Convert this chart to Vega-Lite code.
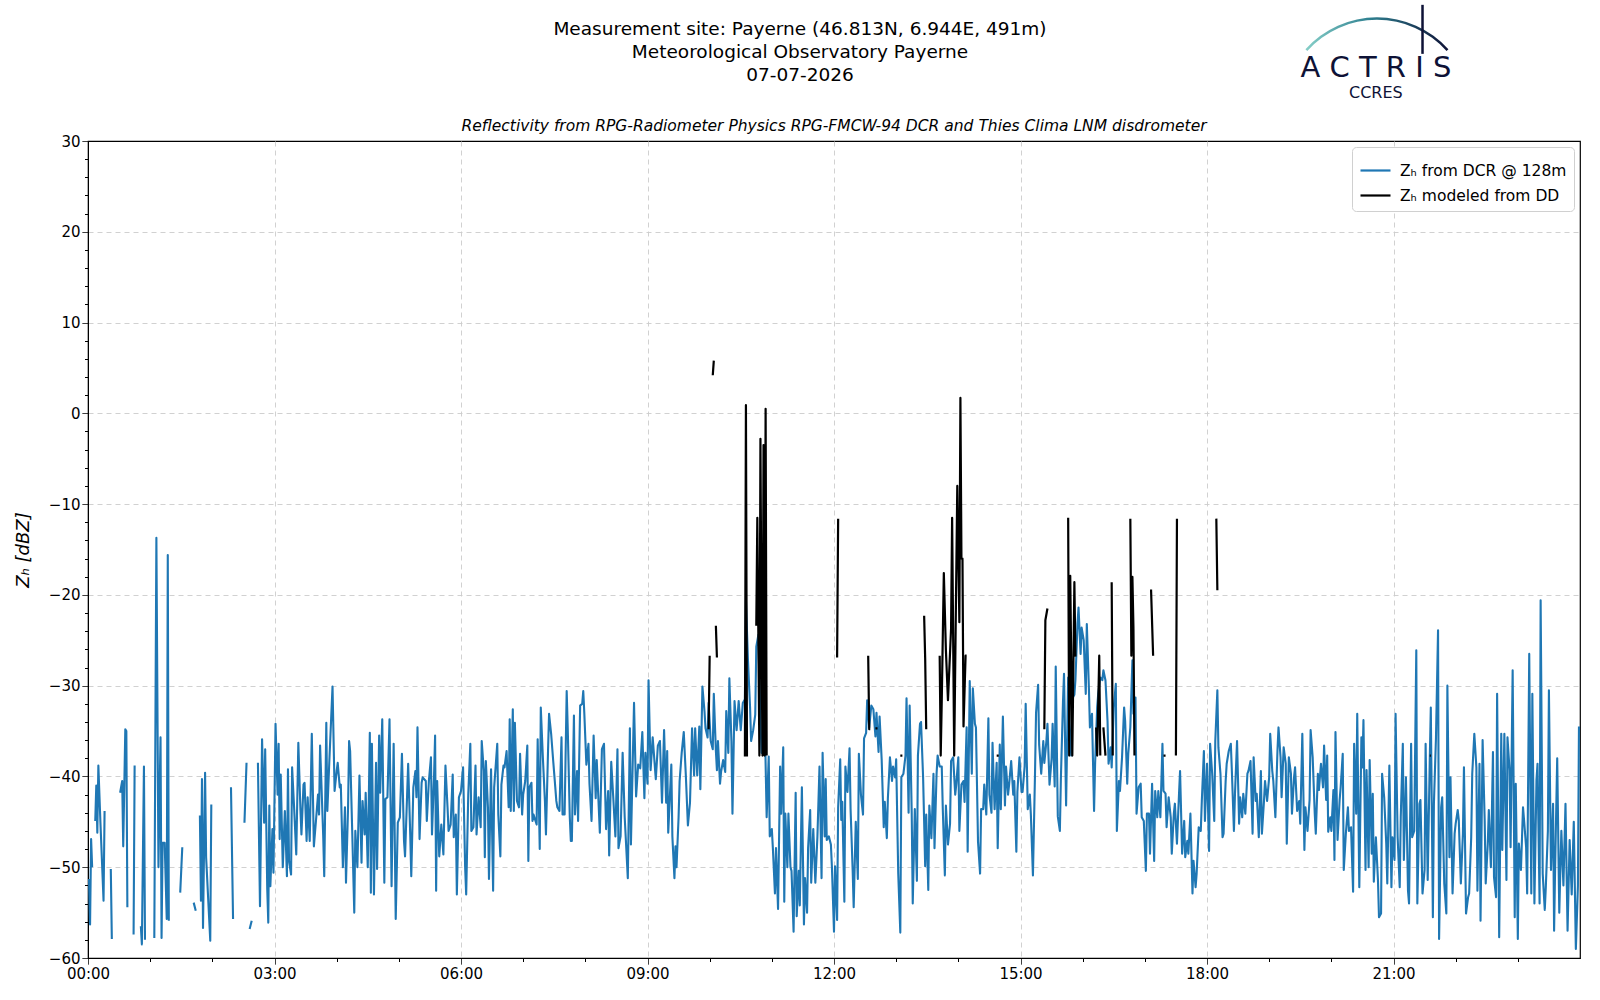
{
  "$schema": "https://vega.github.io/schema/vega-lite/v6.json",
  "autosize": {"type": "none"},
  "width": 1492,
  "height": 817,
  "padding": {"left": 88, "top": 141, "right": 20, "bottom": 42},
  "title": {
    "text": ["Measurement site: Payerne (46.813N, 6.944E, 491m)", "Meteorological Observatory Payerne", "07-07-2026"],
    "anchor": "middle",
    "fontSize": 18.5,
    "fontWeight": "normal",
    "lineHeight": 23,
    "color": "black",
    "offset": 0,
    "dx": -34,
    "dy": 81
  },
  "config": {
    "font": "DejaVu Sans",
    "view": {"stroke": "black", "strokeWidth": 1.2},
    "axis": {
      "labelColor": "black",
      "titleColor": "black",
      "tickColor": "black",
      "domainColor": "black",
      "labelFontSize": 15,
      "gridColor": "#cccccc",
      "gridDash": [5, 4],
      "gridWidth": 0.9
    }
  },
  "layer": [
    {
      "data": {
        "format": {"parse": {"t": "date:'%H:%M'"}},
        "values": [
          {"t":"00:01","z":-51.3},{"t":"00:02","z":-56.3},{"t":"00:03","z":-46.9},{"t":"00:04","z":-50.0},{"t":"00:05","z":null},
          {"t":"00:07","z":-44.9},{"t":"00:08","z":-41.0},{"t":"00:09","z":-46.2},{"t":"00:10","z":-38.8},{"t":"00:12","z":-45.1},{"t":"00:15","z":-53.7},{"t":"00:16","z":-43.8},{"t":"00:18","z":null},
          {"t":"00:22","z":-50.2},{"t":"00:23","z":-57.9},{"t":"00:26","z":null},
          {"t":"00:31","z":-41.8},{"t":"00:33","z":-40.5},{"t":"00:34","z":-47.7},{"t":"00:36","z":-34.8},{"t":"00:37","z":-35.0},{"t":"00:38","z":-54.4},{"t":"00:41","z":null},
          {"t":"00:44","z":-57.4},{"t":"00:45","z":-38.8},{"t":"00:48","z":null},
          {"t":"00:51","z":-56.5},{"t":"00:52","z":-58.5},{"t":"00:54","z":-38.9},{"t":"00:55","z":-58.0},{"t":"00:58","z":null},
          {"t":"01:04","z":-57.8},{"t":"01:06","z":-13.7},{"t":"01:08","z":-50.0},{"t":"01:10","z":-35.7},{"t":"01:11","z":-57.8},{"t":"01:12","z":-47.3},{"t":"01:14","z":-47.3},{"t":"01:16","z":-55.7},{"t":"01:17","z":-15.6},{"t":"01:18","z":-55.9},{"t":"01:22","z":null},
          {"t":"01:29","z":-52.8},{"t":"01:31","z":-47.8},{"t":"01:34","z":null},
          {"t":"01:42","z":-53.9},{"t":"01:44","z":-54.8},{"t":"01:46","z":null},
          {"t":"01:48","z":-44.3},{"t":"01:49","z":-53.7},{"t":"01:50","z":-40.3},{"t":"01:51","z":-56.7},{"t":"01:53","z":-39.6},{"t":"01:54","z":-48.9},{"t":"01:58","z":-58.1},{"t":"01:59","z":-43.1},{"t":"02:02","z":null},
          {"t":"02:18","z":-41.2},{"t":"02:20","z":-55.7},{"t":"02:22","z":null},
          {"t":"02:31","z":-45.1},{"t":"02:33","z":-38.5},{"t":"02:34","z":null},
          {"t":"02:36","z":-56.8},{"t":"02:38","z":-55.9},{"t":"02:40","z":null},
          {"t":"02:44","z":-38.5},{"t":"02:46","z":-54.3},{"t":"02:48","z":-35.9},{"t":"02:50","z":-45.1},{"t":"02:51","z":-37.0},{"t":"02:53","z":-52.4},{"t":"02:54","z":-56.1},{"t":"02:55","z":-43.2},{"t":"02:56","z":-52.1},{"t":"02:58","z":-45.8},{"t":"02:59","z":-50.6},
          {"t":"03:01","z":-34.2},{"t":"03:03","z":-42.0},{"t":"03:04","z":-36.4},{"t":"03:05","z":-46.9},{"t":"03:06","z":-39.8},{"t":"03:08","z":-50.0},{"t":"03:10","z":-43.8},{"t":"03:12","z":-51.0},{"t":"03:13","z":-39.2},{"t":"03:14","z":-49.3},{"t":"03:16","z":-50.8},{"t":"03:17","z":-39.0},{"t":"03:19","z":-43.6},{"t":"03:21","z":-48.6},{"t":"03:23","z":-36.3},{"t":"03:25","z":-43.6},{"t":"03:26","z":-46.4},{"t":"03:28","z":-40.9},{"t":"03:29","z":-40.7},{"t":"03:31","z":-47.1},{"t":"03:32","z":-42.3},{"t":"03:34","z":-47.1},{"t":"03:36","z":-35.3},{"t":"03:38","z":-47.7},{"t":"03:40","z":-44.9},{"t":"03:42","z":-42.0},{"t":"03:43","z":-44.2},{"t":"03:44","z":-36.6},{"t":"03:47","z":-46.5},{"t":"03:48","z":-51.0},{"t":"03:50","z":-34.1},{"t":"03:51","z":-43.8},{"t":"03:53","z":-38.1},{"t":"03:56","z":-30.1},{"t":"03:58","z":-41.6},
          {"t":"04:00","z":-39.4},{"t":"04:01","z":-38.5},{"t":"04:03","z":-41.2},{"t":"04:04","z":-40.9},{"t":"04:06","z":-50.0},{"t":"04:08","z":-43.4},{"t":"04:09","z":-51.7},{"t":"04:11","z":-43.4},{"t":"04:12","z":-36.1},{"t":"04:13","z":-37.2},{"t":"04:15","z":-46.0},{"t":"04:17","z":-55.0},{"t":"04:18","z":-46.0},{"t":"04:20","z":-50.0},{"t":"04:22","z":-39.9},{"t":"04:24","z":-49.5},{"t":"04:25","z":-42.7},{"t":"04:27","z":-46.4},{"t":"04:28","z":-41.8},{"t":"04:30","z":-50.0},{"t":"04:32","z":-35.2},{"t":"04:33","z":-52.8},{"t":"04:34","z":-36.4},{"t":"04:36","z":-53.0},{"t":"04:38","z":-38.5},{"t":"04:39","z":-50.2},{"t":"04:41","z":-35.5},{"t":"04:42","z":-41.8},{"t":"04:44","z":-33.7},{"t":"04:46","z":-51.7},{"t":"04:47","z":-42.5},{"t":"04:49","z":-42.3},{"t":"04:51","z":-33.7},{"t":"04:53","z":-52.1},{"t":"04:55","z":-36.4},{"t":"04:57","z":-55.7},{"t":"04:59","z":-45.1},
          {"t":"05:01","z":-44.5},{"t":"05:03","z":-37.5},{"t":"05:05","z":-47.1},{"t":"05:06","z":-48.8},{"t":"05:08","z":-42.0},{"t":"05:09","z":-38.6},{"t":"05:11","z":-46.4},{"t":"05:12","z":-51.0},{"t":"05:14","z":-41.2},{"t":"05:16","z":-39.4},{"t":"05:17","z":-42.3},{"t":"05:18","z":-34.6},{"t":"05:20","z":-46.9},{"t":"05:22","z":-40.7},{"t":"05:23","z":-40.1},{"t":"05:26","z":-40.5},{"t":"05:27","z":-44.9},{"t":"05:29","z":-40.5},{"t":"05:31","z":-37.9},{"t":"05:32","z":-46.4},{"t":"05:34","z":-39.9},{"t":"05:35","z":-35.5},{"t":"05:36","z":-52.6},{"t":"05:37","z":-40.5},{"t":"05:39","z":-48.8},{"t":"05:41","z":-45.3},{"t":"05:43","z":-48.6},{"t":"05:45","z":-38.8},{"t":"05:47","z":-43.4},{"t":"05:48","z":-46.0},{"t":"05:50","z":-45.3},{"t":"05:52","z":-39.8},{"t":"05:53","z":-46.7},{"t":"05:55","z":-44.2},{"t":"05:56","z":-53.0},{"t":"05:58","z":-42.3},
          {"t":"06:00","z":-41.6},{"t":"06:02","z":-39.0},{"t":"06:04","z":-50.0},{"t":"06:05","z":-53.0},{"t":"06:07","z":-42.0},{"t":"06:09","z":-36.4},{"t":"06:10","z":-46.0},{"t":"06:12","z":-45.6},{"t":"06:14","z":-38.8},{"t":"06:15","z":-46.4},{"t":"06:17","z":-42.3},{"t":"06:19","z":-45.6},{"t":"06:20","z":-36.1},{"t":"06:22","z":-39.4},{"t":"06:23","z":-48.9},{"t":"06:24","z":-38.3},{"t":"06:26","z":-43.4},{"t":"06:27","z":-51.3},{"t":"06:29","z":-39.2},{"t":"06:31","z":-52.6},{"t":"06:32","z":-41.2},{"t":"06:35","z":-36.4},{"t":"06:36","z":-44.2},{"t":"06:38","z":-48.8},{"t":"06:39","z":-40.9},{"t":"06:41","z":-38.8},{"t":"06:42","z":-39.0},{"t":"06:44","z":-37.2},{"t":"06:46","z":-43.4},{"t":"06:47","z":-33.7},{"t":"06:48","z":-43.8},{"t":"06:50","z":-32.6},{"t":"06:51","z":-43.8},{"t":"06:52","z":-34.1},{"t":"06:54","z":-42.7},{"t":"06:56","z":-43.4},{"t":"06:57","z":-37.5},{"t":"06:59","z":-44.2},
          {"t":"07:00","z":-42.0},{"t":"07:02","z":-40.5},{"t":"07:04","z":-36.6},{"t":"07:05","z":-49.3},{"t":"07:06","z":-41.2},{"t":"07:08","z":-40.7},{"t":"07:09","z":-44.9},{"t":"07:10","z":-44.2},{"t":"07:13","z":-45.3},{"t":"07:14","z":-35.9},{"t":"07:16","z":-48.0},{"t":"07:17","z":-32.4},{"t":"07:19","z":-37.9},{"t":"07:21","z":-42.7},{"t":"07:22","z":-46.4},{"t":"07:24","z":-37.2},{"t":"07:25","z":-33.1},{"t":"07:27","z":-35.3},{"t":"07:29","z":-38.3},{"t":"07:31","z":-41.2},{"t":"07:32","z":-42.7},{"t":"07:33","z":-43.4},{"t":"07:35","z":-43.8},{"t":"07:37","z":-35.7},{"t":"07:38","z":-44.2},{"t":"07:40","z":-44.2},{"t":"07:42","z":-30.6},{"t":"07:43","z":-34.6},{"t":"07:45","z":-44.5},{"t":"07:46","z":-47.1},{"t":"07:47","z":-47.1},{"t":"07:49","z":-33.3},{"t":"07:50","z":-44.2},{"t":"07:52","z":-39.4},{"t":"07:53","z":-44.9},{"t":"07:55","z":-32.2},{"t":"07:57","z":-32.0},{"t":"07:58","z":-30.6},{"t":"07:59","z":-33.0},
          {"t":"08:01","z":-38.7},{"t":"08:03","z":-36.4},{"t":"08:04","z":-40.8},{"t":"08:06","z":-44.9},{"t":"08:08","z":-35.5},{"t":"08:10","z":-42.4},{"t":"08:11","z":-38.2},{"t":"08:14","z":-46.2},{"t":"08:16","z":-37.0},{"t":"08:18","z":-36.4},{"t":"08:20","z":-45.8},{"t":"08:22","z":-41.6},{"t":"08:23","z":-48.7},{"t":"08:25","z":-38.4},{"t":"08:27","z":-42.4},{"t":"08:29","z":-46.6},{"t":"08:31","z":-37.0},{"t":"08:32","z":-47.9},{"t":"08:34","z":-46.6},{"t":"08:36","z":-37.4},{"t":"08:38","z":-44.5},{"t":"08:41","z":-51.2},{"t":"08:43","z":-34.7},{"t":"08:44","z":-47.5},{"t":"08:47","z":-31.9},{"t":"08:49","z":-42.2},{"t":"08:51","z":-38.7},{"t":"08:53","z":-39.1},{"t":"08:55","z":-35.1},{"t":"08:57","z":-42.4},{"t":"08:58","z":-37.4},
          {"t":"09:00","z":-40.8},{"t":"09:01","z":-29.4},{"t":"09:03","z":-39.3},{"t":"09:05","z":-35.7},{"t":"09:08","z":-40.3},{"t":"09:10","z":-36.6},{"t":"09:12","z":-36.1},{"t":"09:14","z":-42.9},{"t":"09:16","z":-34.9},{"t":"09:18","z":-42.9},{"t":"09:19","z":-37.2},{"t":"09:20","z":-46.2},{"t":"09:23","z":-38.7},{"t":"09:24","z":-46.6},{"t":"09:26","z":-51.2},{"t":"09:27","z":-47.7},{"t":"09:28","z":-50.0},{"t":"09:30","z":-44.5},{"t":"09:31","z":-40.5},{"t":"09:33","z":-37.4},{"t":"09:35","z":-35.1},{"t":"09:37","z":-39.9},{"t":"09:39","z":-45.4},{"t":"09:41","z":-42.9},{"t":"09:43","z":-34.7},{"t":"09:45","z":-39.9},{"t":"09:46","z":-34.7},{"t":"09:48","z":-39.9},{"t":"09:50","z":-34.5},{"t":"09:51","z":-41.4},{"t":"09:53","z":-30.1},{"t":"09:55","z":-32.8},{"t":"09:56","z":-34.7},{"t":"09:58","z":-35.7},{"t":"09:59","z":-31.9},
          {"t":"10:01","z":-36.1},{"t":"10:03","z":-37.0},{"t":"10:04","z":-30.9},{"t":"10:06","z":-37.2},{"t":"10:07","z":-39.3},{"t":"10:08","z":-36.1},{"t":"10:10","z":-40.8},{"t":"10:11","z":-39.5},{"t":"10:13","z":-38.2},{"t":"10:15","z":-39.5},{"t":"10:16","z":-32.8},{"t":"10:18","z":-37.4},{"t":"10:19","z":-29.2},{"t":"10:21","z":-36.1},{"t":"10:22","z":-44.1},{"t":"10:24","z":-31.7},{"t":"10:26","z":-34.9},{"t":"10:28","z":-31.7},{"t":"10:30","z":-34.9},{"t":"10:32","z":-31.9},{"t":"10:34","z":-31.5},{"t":"10:35","z":-20.6},{"t":"10:37","z":-27.3},{"t":"10:39","z":-32.4},{"t":"10:40","z":-36.1},{"t":"10:42","z":-34.9},{"t":"10:44","z":-33.2},{"t":"10:45","z":-25.7},{"t":"10:47","z":-24.4},{"t":"10:48","z":-29.4},{"t":"10:50","z":-37.4},{"t":"10:52","z":-37.4},{"t":"10:53","z":-32.8},{"t":"10:55","z":-44.5},{"t":"10:57","z":-37.8},{"t":"10:58","z":-46.6},
          {"t":"11:00","z":-45.8},{"t":"11:01","z":-47.9},{"t":"11:03","z":-52.9},{"t":"11:04","z":-47.9},{"t":"11:06","z":-54.6},{"t":"11:08","z":-38.9},{"t":"11:09","z":-44.1},{"t":"11:11","z":-36.8},{"t":"11:12","z":-53.8},{"t":"11:13","z":-44.1},{"t":"11:15","z":-50.0},{"t":"11:16","z":-44.1},{"t":"11:18","z":-50.0},{"t":"11:19","z":-50.4},{"t":"11:21","z":-57.1},{"t":"11:23","z":-41.8},{"t":"11:24","z":-55.4},{"t":"11:26","z":-50.4},{"t":"11:27","z":-54.2},{"t":"11:29","z":-41.2},{"t":"11:31","z":-56.3},{"t":"11:32","z":-51.2},{"t":"11:34","z":-55.0},{"t":"11:35","z":-47.9},{"t":"11:37","z":-43.7},{"t":"11:38","z":-51.7},{"t":"11:40","z":-45.8},{"t":"11:42","z":-51.7},{"t":"11:44","z":-46.6},{"t":"11:46","z":-38.9},{"t":"11:48","z":-51.2},{"t":"11:49","z":-37.4},{"t":"11:51","z":-46.6},{"t":"11:52","z":-40.3},{"t":"11:53","z":-47.0},{"t":"11:55","z":-46.6},{"t":"11:57","z":-47.5},{"t":"11:58","z":-50.0},
          {"t":"12:00","z":-57.1},{"t":"12:01","z":-49.9},{"t":"12:03","z":-55.8},{"t":"12:04","z":-43.4},{"t":"12:06","z":-38.1},{"t":"12:07","z":-44.8},{"t":"12:08","z":-42.8},{"t":"12:10","z":-53.8},{"t":"12:11","z":-38.9},{"t":"12:13","z":-41.7},{"t":"12:15","z":-36.9},{"t":"12:16","z":-43.6},{"t":"12:18","z":-50.3},{"t":"12:19","z":-54.4},{"t":"12:21","z":-45.0},{"t":"12:23","z":-51.3},{"t":"12:24","z":-37.5},{"t":"12:26","z":-42.0},{"t":"12:28","z":-44.2},{"t":"12:29","z":-35.8},{"t":"12:31","z":-35.2},{"t":"12:32","z":-31.6},{"t":"12:34","z":-34.6},{"t":"12:36","z":-32.2},{"t":"12:38","z":-32.6},{"t":"12:40","z":-35.6},{"t":"12:41","z":-33.0},{"t":"12:43","z":-37.3},{"t":"12:44","z":-33.4},{"t":"12:46","z":-38.1},{"t":"12:48","z":-45.6},{"t":"12:49","z":-42.8},{"t":"12:51","z":-46.8},{"t":"12:52","z":-42.4},{"t":"12:54","z":-37.9},{"t":"12:56","z":-40.5},{"t":"12:57","z":-38.9},{"t":"12:59","z":-40.1},
          {"t":"13:00","z":-38.1},{"t":"13:02","z":-50.7},{"t":"13:04","z":-57.2},{"t":"13:05","z":-40.1},{"t":"13:07","z":-39.7},{"t":"13:09","z":-37.7},{"t":"13:10","z":-31.4},{"t":"13:12","z":-44.0},{"t":"13:13","z":-32.2},{"t":"13:15","z":-44.0},{"t":"13:16","z":-54.0},{"t":"13:18","z":-43.6},{"t":"13:20","z":-51.5},{"t":"13:21","z":-37.7},{"t":"13:23","z":-34.2},{"t":"13:24","z":-34.0},{"t":"13:26","z":-40.1},{"t":"13:28","z":-49.9},{"t":"13:29","z":-44.2},{"t":"13:31","z":-52.5},{"t":"13:32","z":-43.2},{"t":"13:34","z":-46.8},{"t":"13:36","z":-39.7},{"t":"13:37","z":-47.9},{"t":"13:39","z":-39.7},{"t":"13:40","z":-37.7},{"t":"13:42","z":-38.9},{"t":"13:44","z":-38.9},{"t":"13:45","z":-43.6},{"t":"13:47","z":-50.9},{"t":"13:48","z":-43.2},{"t":"13:50","z":-47.5},{"t":"13:52","z":-45.2},{"t":"13:53","z":-38.3},{"t":"13:55","z":-37.9},{"t":"13:57","z":-42.0},{"t":"13:58","z":-40.9},
          {"t":"14:00","z":-37.9},{"t":"14:01","z":-46.0},{"t":"14:03","z":-40.9},{"t":"14:05","z":-40.5},{"t":"14:06","z":-42.8},{"t":"14:08","z":-34.6},{"t":"14:09","z":-48.3},{"t":"14:11","z":-29.5},{"t":"14:13","z":-39.7},{"t":"14:14","z":-30.3},{"t":"14:16","z":-34.2},{"t":"14:17","z":-34.6},{"t":"14:19","z":-47.2},{"t":"14:21","z":-50.7},{"t":"14:22","z":-43.6},{"t":"14:24","z":-43.6},{"t":"14:25","z":-40.9},{"t":"14:27","z":-44.2},{"t":"14:29","z":-33.6},{"t":"14:30","z":-42.0},{"t":"14:32","z":-44.0},{"t":"14:33","z":-36.3},{"t":"14:35","z":-43.6},{"t":"14:37","z":-38.5},{"t":"14:38","z":-47.9},{"t":"14:40","z":-36.5},{"t":"14:41","z":-43.6},{"t":"14:43","z":-33.4},{"t":"14:45","z":-43.2},{"t":"14:46","z":-38.9},{"t":"14:48","z":-42.0},{"t":"14:49","z":-40.9},{"t":"14:51","z":-38.3},{"t":"14:53","z":-42.0},{"t":"14:54","z":-40.5},{"t":"14:56","z":-48.3},{"t":"14:57","z":-41.7},{"t":"14:59","z":-37.9},
          {"t":"15:01","z":-41.7},{"t":"15:02","z":-41.7},{"t":"15:04","z":-38.9},{"t":"15:05","z":-32.0},{"t":"15:07","z":-43.6},{"t":"15:09","z":-42.0},{"t":"15:10","z":-44.2},{"t":"15:12","z":-50.9},{"t":"15:14","z":-39.7},{"t":"15:15","z":-33.0},{"t":"15:17","z":-29.9},{"t":"15:18","z":-36.5},{"t":"15:20","z":-39.7},{"t":"15:22","z":-36.1},{"t":"15:23","z":-38.5},{"t":"15:25","z":-36.1},{"t":"15:26","z":-34.2},{"t":"15:28","z":-40.9},{"t":"15:30","z":-38.1},{"t":"15:31","z":-34.2},{"t":"15:33","z":-41.1},{"t":"15:34","z":-27.9},{"t":"15:36","z":-44.4},{"t":"15:38","z":-46.0},{"t":"15:39","z":-40.1},{"t":"15:41","z":-31.8},{"t":"15:42","z":-28.7},{"t":"15:44","z":-43.2},{"t":"15:46","z":-29.1},{"t":"15:47","z":-34.2},{"t":"15:49","z":-37.7},{"t":"15:50","z":-31.4},{"t":"15:52","z":-31.0},{"t":"15:53","z":-29.4},{"t":"15:55","z":-23.2},{"t":"15:56","z":-21.4},{"t":"15:58","z":-26.5},{"t":"15:59","z":-23.6},
          {"t":"16:01","z":-25.0},{"t":"16:03","z":-30.9},{"t":"16:04","z":-23.2},{"t":"16:06","z":-30.2},{"t":"16:07","z":-34.6},{"t":"16:09","z":-33.1},{"t":"16:11","z":-43.8},{"t":"16:12","z":-38.6},{"t":"16:14","z":-32.4},{"t":"16:15","z":-30.9},{"t":"16:17","z":-29.1},{"t":"16:19","z":-29.4},{"t":"16:20","z":-28.3},{"t":"16:22","z":-29.4},{"t":"16:24","z":-33.9},{"t":"16:25","z":-38.6},{"t":"16:27","z":-36.8},{"t":"16:28","z":-39.0},{"t":"16:30","z":-32.4},{"t":"16:32","z":-29.8},{"t":"16:33","z":-46.0},{"t":"16:35","z":-40.5},{"t":"16:36","z":-41.6},{"t":"16:38","z":-37.9},{"t":"16:40","z":-32.4},{"t":"16:41","z":-33.9},{"t":"16:43","z":-40.8},{"t":"16:44","z":-37.5},{"t":"16:46","z":-34.6},{"t":"16:48","z":-27.2},{"t":"16:49","z":-33.1},{"t":"16:51","z":-31.3},{"t":"16:52","z":-44.1},{"t":"16:54","z":-41.2},{"t":"16:56","z":-40.8},{"t":"16:57","z":-44.5},{"t":"16:59","z":-44.9},
          {"t":"17:01","z":-50.4},{"t":"17:02","z":-44.1},{"t":"17:04","z":-44.1},{"t":"17:05","z":-48.5},{"t":"17:07","z":-40.8},{"t":"17:09","z":-49.3},{"t":"17:10","z":-41.6},{"t":"17:12","z":-44.5},{"t":"17:13","z":-41.6},{"t":"17:15","z":-44.5},{"t":"17:17","z":-36.4},{"t":"17:18","z":-41.6},{"t":"17:20","z":-41.9},{"t":"17:21","z":-45.6},{"t":"17:23","z":-42.3},{"t":"17:25","z":-44.5},{"t":"17:26","z":-48.5},{"t":"17:28","z":-44.1},{"t":"17:29","z":-43.0},{"t":"17:31","z":-47.4},{"t":"17:33","z":-41.9},{"t":"17:34","z":-39.4},{"t":"17:36","z":-48.5},{"t":"17:38","z":-44.9},{"t":"17:39","z":-48.9},{"t":"17:41","z":-47.1},{"t":"17:42","z":-48.5},{"t":"17:44","z":-44.1},{"t":"17:46","z":-52.9},{"t":"17:47","z":-49.3},{"t":"17:49","z":-52.2},{"t":"17:50","z":-50.7},{"t":"17:52","z":-45.6},{"t":"17:54","z":-46.0},{"t":"17:55","z":-42.7},{"t":"17:57","z":-37.2},{"t":"17:58","z":-44.9},
          {"t":"18:00","z":-38.6},{"t":"18:02","z":-48.2},{"t":"18:03","z":-36.4},{"t":"18:05","z":-39.7},{"t":"18:07","z":-44.9},{"t":"18:08","z":-36.1},{"t":"18:10","z":-30.5},{"t":"18:11","z":-36.8},{"t":"18:13","z":-39.7},{"t":"18:15","z":-46.7},{"t":"18:16","z":-46.3},{"t":"18:18","z":-40.5},{"t":"18:19","z":-38.6},{"t":"18:21","z":-37.2},{"t":"18:23","z":-36.4},{"t":"18:24","z":-39.4},{"t":"18:26","z":-46.0},{"t":"18:27","z":-41.9},{"t":"18:29","z":-36.1},{"t":"18:31","z":-45.2},{"t":"18:32","z":-42.3},{"t":"18:34","z":-44.5},{"t":"18:35","z":-41.9},{"t":"18:37","z":-44.1},{"t":"18:39","z":-39.7},{"t":"18:40","z":-39.4},{"t":"18:42","z":-38.3},{"t":"18:44","z":-46.3},{"t":"18:45","z":-37.9},{"t":"18:47","z":-42.7},{"t":"18:48","z":-41.9},{"t":"18:50","z":-46.7},{"t":"18:52","z":-39.4},{"t":"18:53","z":-46.3},{"t":"18:55","z":-42.7},{"t":"18:56","z":-40.5},{"t":"18:58","z":-42.7},
          {"t":"19:00","z":-40.1},{"t":"19:01","z":-35.3},{"t":"19:03","z":-39.4},{"t":"19:04","z":-40.5},{"t":"19:06","z":-44.5},{"t":"19:08","z":-37.2},{"t":"19:09","z":-34.6},{"t":"19:11","z":-37.9},{"t":"19:12","z":-42.3},{"t":"19:14","z":-36.8},{"t":"19:16","z":-38.6},{"t":"19:17","z":-47.4},{"t":"19:19","z":-37.9},{"t":"19:21","z":-39.7},{"t":"19:22","z":-44.1},{"t":"19:24","z":-40.1},{"t":"19:25","z":-39.0},{"t":"19:27","z":-43.8},{"t":"19:29","z":-42.7},{"t":"19:30","z":-45.2},{"t":"19:32","z":-35.3},{"t":"19:34","z":-48.1},{"t":"19:35","z":-43.4},{"t":"19:37","z":-46.0},{"t":"19:39","z":-42.6},{"t":"19:40","z":-34.9},{"t":"19:42","z":-37.9},{"t":"19:44","z":-44.1},{"t":"19:45","z":-46.3},{"t":"19:47","z":-39.7},{"t":"19:48","z":-41.5},{"t":"19:50","z":-38.6},{"t":"19:52","z":-41.2},{"t":"19:53","z":-36.6},{"t":"19:55","z":-42.6},{"t":"19:56","z":-37.7},{"t":"19:57","z":-46.1},{"t":"19:59","z":-44.5},
          {"t":"20:00","z":-46.0},{"t":"20:02","z":-41.5},{"t":"20:03","z":-49.2},{"t":"20:04","z":-35.1},{"t":"20:06","z":-47.0},{"t":"20:08","z":-42.6},{"t":"20:09","z":-41.2},{"t":"20:11","z":-37.5},{"t":"20:12","z":-50.3},{"t":"20:14","z":-46.3},{"t":"20:16","z":-43.4},{"t":"20:17","z":-46.0},{"t":"20:19","z":-45.6},{"t":"20:21","z":-52.7},{"t":"20:22","z":-36.4},{"t":"20:24","z":-44.1},{"t":"20:25","z":-33.1},{"t":"20:27","z":-52.2},{"t":"20:29","z":-35.7},{"t":"20:30","z":-39.0},{"t":"20:31","z":-33.8},{"t":"20:33","z":-50.3},{"t":"20:34","z":-39.3},{"t":"20:36","z":-50.0},{"t":"20:37","z":-38.2},{"t":"20:39","z":-48.5},{"t":"20:40","z":-41.9},{"t":"20:41","z":-51.6},{"t":"20:43","z":-46.7},{"t":"20:45","z":-51.4},{"t":"20:46","z":-55.5},{"t":"20:48","z":-55.1},{"t":"20:49","z":-39.7},{"t":"20:51","z":-42.3},{"t":"20:53","z":-47.4},{"t":"20:54","z":-51.8},{"t":"20:56","z":-38.8},{"t":"20:58","z":-52.2},{"t":"20:59","z":-46.7},
          {"t":"21:01","z":-49.2},{"t":"21:02","z":-33.1},{"t":"21:04","z":-46.7},{"t":"21:06","z":-52.2},{"t":"21:07","z":-44.5},{"t":"21:09","z":-36.4},{"t":"21:10","z":-49.2},{"t":"21:12","z":-40.1},{"t":"21:14","z":-52.6},{"t":"21:15","z":-54.0},{"t":"21:17","z":-36.4},{"t":"21:18","z":-46.7},{"t":"21:20","z":-46.0},{"t":"21:22","z":-26.1},{"t":"21:23","z":-54.0},{"t":"21:25","z":-43.0},{"t":"21:26","z":-42.6},{"t":"21:28","z":-52.9},{"t":"21:30","z":-50.3},{"t":"21:31","z":-36.4},{"t":"21:33","z":-51.4},{"t":"21:35","z":-38.2},{"t":"21:36","z":-32.4},{"t":"21:38","z":-55.5},{"t":"21:39","z":-43.0},{"t":"21:41","z":-35.7},{"t":"21:43","z":-23.9},{"t":"21:44","z":-57.9},{"t":"21:46","z":-43.4},{"t":"21:47","z":-42.3},{"t":"21:49","z":-51.8},{"t":"21:51","z":-55.1},{"t":"21:52","z":-30.0},{"t":"21:54","z":-48.9},{"t":"21:55","z":-40.1},{"t":"21:57","z":-52.9},{"t":"21:59","z":-46.3},
          {"t":"22:00","z":-45.2},{"t":"22:02","z":-43.7},{"t":"22:03","z":-44.8},{"t":"22:05","z":-51.8},{"t":"22:07","z":-46.3},{"t":"22:08","z":-39.0},{"t":"22:10","z":-55.1},{"t":"22:12","z":-53.3},{"t":"22:13","z":-52.9},{"t":"22:15","z":-46.7},{"t":"22:16","z":-39.7},{"t":"22:18","z":-35.3},{"t":"22:20","z":-39.0},{"t":"22:21","z":-52.6},{"t":"22:23","z":-38.6},{"t":"22:24","z":-55.9},{"t":"22:26","z":-36.0},{"t":"22:28","z":-44.8},{"t":"22:29","z":-51.8},{"t":"22:31","z":-47.4},{"t":"22:32","z":-43.7},{"t":"22:34","z":-50.0},{"t":"22:36","z":-37.3},{"t":"22:37","z":-51.1},{"t":"22:39","z":-53.3},{"t":"22:40","z":-30.9},{"t":"22:42","z":-57.7},{"t":"22:44","z":-35.3},{"t":"22:45","z":-48.1},{"t":"22:47","z":-35.3},{"t":"22:49","z":-51.4},{"t":"22:50","z":-35.7},{"t":"22:52","z":-39.3},{"t":"22:53","z":-47.8},{"t":"22:55","z":-28.3},{"t":"22:57","z":-55.5},{"t":"22:58","z":-40.8},
          {"t":"23:00","z":-57.9},{"t":"23:01","z":-47.4},{"t":"23:03","z":-50.3},{"t":"23:05","z":-43.4},{"t":"23:06","z":-44.8},{"t":"23:08","z":-47.8},{"t":"23:09","z":-52.9},{"t":"23:11","z":-26.5},{"t":"23:13","z":-52.9},{"t":"23:14","z":-30.9},{"t":"23:16","z":-54.0},{"t":"23:18","z":-40.4},{"t":"23:19","z":-38.6},{"t":"23:21","z":-54.0},{"t":"23:22","z":-20.6},{"t":"23:24","z":-50.7},{"t":"23:26","z":-54.7},{"t":"23:27","z":-52.2},{"t":"23:29","z":-46.0},{"t":"23:30","z":-30.5},{"t":"23:32","z":-50.3},{"t":"23:34","z":-43.0},{"t":"23:35","z":-57.0},{"t":"23:36","z":-50.0},{"t":"23:38","z":-38.0},{"t":"23:40","z":-55.0},{"t":"23:42","z":-46.0},{"t":"23:44","z":-52.0},{"t":"23:46","z":-43.0},{"t":"23:48","z":-57.0},{"t":"23:50","z":-47.0},{"t":"23:52","z":-53.0},{"t":"23:54","z":-45.0},{"t":"23:56","z":-59.0},{"t":"23:58","z":-52.0},{"t":"23:59","z":-34.5}
        ]
      },
      "mark": {"type": "line", "strokeWidth": 2.1, "strokeJoin": "round"},
      "encoding": {
        "x": {
          "field": "t", "type": "temporal",
          "scale": {"domain": [{"year": 1900, "month": 1, "date": 1, "hours": 0}, {"year": 1900, "month": 1, "date": 2, "hours": 0}]},
          "axis": {
            "title": null,
            "format": "%H:%M",
            "tickCount": 100,
            "values": [
              {"year": 1900, "month": 1, "date": 1, "hours": 0}, {"year": 1900, "month": 1, "date": 1, "hours": 1}, {"year": 1900, "month": 1, "date": 1, "hours": 2},
              {"year": 1900, "month": 1, "date": 1, "hours": 3}, {"year": 1900, "month": 1, "date": 1, "hours": 4}, {"year": 1900, "month": 1, "date": 1, "hours": 5},
              {"year": 1900, "month": 1, "date": 1, "hours": 6}, {"year": 1900, "month": 1, "date": 1, "hours": 7}, {"year": 1900, "month": 1, "date": 1, "hours": 8},
              {"year": 1900, "month": 1, "date": 1, "hours": 9}, {"year": 1900, "month": 1, "date": 1, "hours": 10}, {"year": 1900, "month": 1, "date": 1, "hours": 11},
              {"year": 1900, "month": 1, "date": 1, "hours": 12}, {"year": 1900, "month": 1, "date": 1, "hours": 13}, {"year": 1900, "month": 1, "date": 1, "hours": 14},
              {"year": 1900, "month": 1, "date": 1, "hours": 15}, {"year": 1900, "month": 1, "date": 1, "hours": 16}, {"year": 1900, "month": 1, "date": 1, "hours": 17},
              {"year": 1900, "month": 1, "date": 1, "hours": 18}, {"year": 1900, "month": 1, "date": 1, "hours": 19}, {"year": 1900, "month": 1, "date": 1, "hours": 20},
              {"year": 1900, "month": 1, "date": 1, "hours": 21}, {"year": 1900, "month": 1, "date": 1, "hours": 22}, {"year": 1900, "month": 1, "date": 1, "hours": 23}
            ],
            "labelExpr": "hours(datum.value) % 3 === 0 ? datum.label : ''",
            "labelFlush": false,
            "tickSize": 6,
            "tickDash": {"condition": {"test": "hours(datum.value) % 3 !== 0", "value": [3.5, 30]}, "value": [1, 0]},
            "gridOpacity": {"condition": {"test": "hours(datum.value) % 3 === 0 && hours(datum.value) > 0", "value": 1}, "value": 0}
          }
        },
        "y": {
          "field": "z", "type": "quantitative",
          "scale": {"domain": [-60, 30], "nice": false, "zero": false},
          "axis": {
            "title": "Zₕ [dBZ]",
            "titleFontSize": 18,
            "titleFontWeight": "normal",
            "titleFontStyle": "italic",
            "titlePadding": 16,
            "tickCount": 100,
            "values": [-60,-58,-56,-54,-52,-50,-48,-46,-44,-42,-40,-38,-36,-34,-32,-30,-28,-26,-24,-22,-20,-18,-16,-14,-12,-10,-8,-6,-4,-2,0,2,4,6,8,10,12,14,16,18,20,22,24,26,28,30],
            "labelExpr": "datum.value % 10 === 0 ? datum.label : ''",
            "labelOverlap": false,
            "tickSize": 6,
            "tickDash": {"condition": {"test": "datum.value % 10 !== 0", "value": [3.5, 30]}, "value": [1, 0]},
            "gridOpacity": {"condition": {"test": "datum.value % 10 === 0 && datum.value > -60 && datum.value < 30", "value": 1}, "value": 0}
          }
        },
        "color": {
          "datum": "Zₕ from DCR @ 128m",
          "scale": {"domain": ["Zₕ from DCR @ 128m", "Zₕ modeled from DD"], "range": ["#1f77b4", "#000000"]},
          "legend": {
            "title": null,
            "orient": "top-right",
            "offset": 6,
            "padding": 7,
            "strokeColor": "#d0d0d0",
            "fillColor": "white",
            "cornerRadius": 4,
            "symbolType": "stroke",
            "symbolSize": 900,
            "symbolStrokeWidth": 2.2,
            "labelFontSize": 15.5,
            "labelColor": "black",
            "labelLimit": 400,
            "labelOffset": 8,
            "rowPadding": 0
          }
        }
      }
    },
    {
      "data": {
        "format": {"parse": {"t": "date:'%H:%M'"}},
        "values": [
          {"t":"09:59","z":-34.8},{"t":"10:00","z":-26.7},{"t":"10:01","z":null},
          {"t":"10:03","z":4.2},{"t":"10:04","z":5.8},{"t":"10:05","z":null},
          {"t":"10:06","z":-23.4},{"t":"10:07","z":-26.9},{"t":"10:08","z":null},
          {"t":"10:34","z":-37.8},{"t":"10:35","z":0.9},{"t":"10:36","z":-37.8},{"t":"10:37","z":null},
          {"t":"10:45","z":-23.4},{"t":"10:46","z":-11.5},{"t":"10:47","z":-24.5},{"t":"10:48","z":-37.7},{"t":"10:49","z":-2.8},{"t":"10:50","z":-24.0},{"t":"10:51","z":-37.7},{"t":"10:52","z":-3.5},{"t":"10:53","z":-37.7},{"t":"10:54","z":0.5},{"t":"10:55","z":-37.7},{"t":"10:56","z":null},
          {"t":"12:03","z":-26.9},{"t":"12:04","z":-11.6},{"t":"12:05","z":null},
          {"t":"12:33","z":-26.7},{"t":"12:34","z":-34.8},{"t":"12:35","z":-34.8},{"t":"12:36","z":null},
          {"t":"12:40","z":-34.7},{"t":"12:42","z":-34.7},{"t":"12:43","z":null},
          {"t":"13:04","z":-37.7},{"t":"13:06","z":-37.7},{"t":"13:07","z":null},
          {"t":"13:27","z":-22.3},{"t":"13:28","z":-27.0},{"t":"13:29","z":-34.8},{"t":"13:30","z":null},
          {"t":"13:42","z":-26.7},{"t":"13:43","z":-37.7},{"t":"13:44","z":-31.6},{"t":"13:46","z":-17.6},{"t":"13:48","z":-26.1},{"t":"13:50","z":-31.6},{"t":"13:53","z":-23.7},{"t":"13:54","z":-11.5},{"t":"13:56","z":-37.7},{"t":"13:59","z":-8.0},{"t":"14:01","z":-23.0},{"t":"14:02","z":1.7},{"t":"14:03","z":-16.0},{"t":"14:04","z":-16.0},{"t":"14:05","z":-34.5},{"t":"14:07","z":-26.7},{"t":"14:08","z":-26.7},{"t":"14:09","z":null},
          {"t":"14:37","z":-37.7},{"t":"14:39","z":-37.7},{"t":"14:40","z":null},
          {"t":"15:23","z":-34.8},{"t":"15:24","z":-22.8},{"t":"15:26","z":-21.5},{"t":"15:27","z":null},
          {"t":"15:46","z":-11.5},{"t":"15:47","z":-37.7},{"t":"15:48","z":-17.9},{"t":"15:50","z":-37.7},{"t":"15:52","z":-18.6},{"t":"15:53","z":-26.8},{"t":"15:54","z":null},
          {"t":"16:13","z":-34.6},{"t":"16:14","z":-37.7},{"t":"16:16","z":-26.7},{"t":"16:17","z":-37.7},{"t":"16:18","z":null},
          {"t":"16:20","z":-34.6},{"t":"16:22","z":-37.7},{"t":"16:23","z":null},
          {"t":"16:28","z":-18.6},{"t":"16:29","z":-37.7},{"t":"16:30","z":null},
          {"t":"16:46","z":-11.6},{"t":"16:47","z":-26.7},{"t":"16:48","z":-18.0},{"t":"16:49","z":-23.6},{"t":"16:50","z":-37.7},{"t":"16:51","z":null},
          {"t":"17:06","z":-19.4},{"t":"17:08","z":-26.7},{"t":"17:09","z":null},
          {"t":"17:18","z":-37.7},{"t":"17:20","z":-37.7},{"t":"17:21","z":null},
          {"t":"17:30","z":-37.7},{"t":"17:31","z":-11.6},{"t":"17:32","z":null},
          {"t":"18:09","z":-11.6},{"t":"18:10","z":-19.5},{"t":"18:11","z":null},
          {"t":"21:35","z":-37.7},{"t":"21:36","z":-37.7}
        ]
      },
      "mark": {"type": "line", "strokeWidth": 2.2, "strokeJoin": "round"},
      "encoding": {
        "x": {"field": "t", "type": "temporal"},
        "y": {"field": "z", "type": "quantitative"},
        "color": {"datum": "Zₕ modeled from DD"}
      }
    },
    {
      "data": {"values": [{"label": "Reflectivity from RPG-Radiometer Physics RPG-FMCW-94 DCR and Thies Clima LNM disdrometer"}]},
      "mark": {"type": "text", "fontSize": 15.5, "fontStyle": "italic", "color": "black", "align": "center", "baseline": "middle"},
      "encoding": {
        "x": {"datum": {"year": 1900, "month": 1, "date": 1, "hours": 12}, "type": "temporal"},
        "y": {"datum": 31.62, "type": "quantitative"},
        "text": {"field": "label"}
      }
    },
    {
      "data": {"values": [{}]},
      "mark": {"type": "arc", "radius": 96, "radius2": 93.5, "theta": -0.84, "theta2": 0.84,
        "color": {"gradient": "linear", "x1": 0, "y1": 0, "x2": 1, "y2": 0,
          "stops": [{"offset": 0, "color": "#86cfc8"}, {"offset": 0.45, "color": "#2f8090"}, {"offset": 1, "color": "#0e1236"}]}},
      "encoding": {
        "x": {"datum": {"year": 1900, "month": 1, "date": 1, "hours": 20, "minutes": 44}, "type": "temporal"},
        "y": {"datum": 33.05, "type": "quantitative"}
      }
    },
    {
      "data": {"values": [{"label": "A C T R I S"}]},
      "mark": {"type": "text", "fontSize": 29, "color": "#0e1236", "align": "center", "baseline": "middle"},
      "encoding": {
        "x": {"datum": {"year": 1900, "month": 1, "date": 1, "hours": 20, "minutes": 43}, "type": "temporal"},
        "y": {"datum": 38.0, "type": "quantitative"},
        "text": {"field": "label"}
      }
    },
    {
      "data": {"values": [{"label": "CCRES"}]},
      "mark": {"type": "text", "fontSize": 16, "color": "#0e1236", "align": "center", "baseline": "middle"},
      "encoding": {
        "x": {"datum": {"year": 1900, "month": 1, "date": 1, "hours": 20, "minutes": 43}, "type": "temporal"},
        "y": {"datum": 35.25, "type": "quantitative"},
        "text": {"field": "label"}
      }
    },
    {
      "data": {"values": [{}]},
      "mark": {"type": "rule", "color": "#0e1236", "strokeWidth": 2.5},
      "encoding": {
        "x": {"datum": {"year": 1900, "month": 1, "date": 1, "hours": 21, "minutes": 28}, "type": "temporal"},
        "y": {"datum": 45.0, "type": "quantitative"},
        "y2": {"datum": 39.6}
      }
    }
  ]
}
